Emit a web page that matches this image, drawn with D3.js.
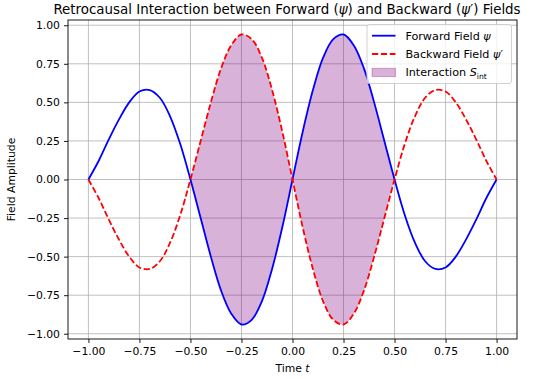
<!DOCTYPE html>
<html>
<head>
<meta charset="utf-8">
<script src="https://cdn.jsdelivr.net/npm/d3@7"></script>
<style>
  body { margin: 0; background: #fff; }
  svg { font-family: "DejaVu Sans", sans-serif; }
  .grid line { stroke: #b0b0b0; stroke-width: 0.8; }
</style>
</head>
<body>
<div id="chart"></div>
<script>
// Time samples and field values
const times = d3.range(-20, 21).map(k => k / 20);
const forward = [
    0.00, 0.12, 0.26, 0.39, 0.50, 0.57, 0.58, 0.53, 0.41, 0.23,
    0.00, -0.25, -0.50, -0.72, -0.87, -0.94, -0.91, -0.79, -0.58, -0.31,
    0.00, 0.31, 0.58, 0.79, 0.91, 0.94, 0.87, 0.72, 0.50, 0.25,
    0.00, -0.23, -0.41, -0.53, -0.58, -0.57, -0.50, -0.39, -0.26, -0.12,
    0.00
];
const backward = [
    0.00, -0.12, -0.26, -0.39, -0.50, -0.57, -0.58, -0.53, -0.41, -0.23,
    0.00, 0.25, 0.50, 0.72, 0.87, 0.94, 0.91, 0.79, 0.58, 0.31,
    0.00, -0.31, -0.58, -0.79, -0.91, -0.94, -0.87, -0.72, -0.50, -0.25,
    0.00, 0.23, 0.41, 0.53, 0.58, 0.57, 0.50, 0.39, 0.26, 0.12,
    0.00
];
const xTicks = [-1, -0.75, -0.5, -0.25, 0, 0.25, 0.5, 0.75, 1];
const yTicks = [-1, -0.75, -0.5, -0.25, 0, 0.25, 0.5, 0.75, 1];
const fillRange = [-0.5, 0.5];

const W = 535, H = 379;
const margin = { top: 20, right: 18, bottom: 40, left: 68 };
const width = W - margin.left - margin.right;
const height = H - margin.top - margin.bottom;

const svg = d3.select("#chart").append("svg")
    .attr("width", W)
    .attr("height", H);

const g = svg.append("g")
    .attr("transform", `translate(${margin.left},${margin.top})`);

const x = d3.scaleLinear().domain([-1.1, 1.1]).range([0, width]);
const y = d3.scaleLinear().domain([-1.034, 1.034]).range([height, 0]);

// Grid
g.append("g").attr("class", "grid")
    .selectAll("line").data(xTicks).join("line")
    .attr("x1", d => x(d)).attr("x2", d => x(d))
    .attr("y1", 0).attr("y2", height);
g.append("g").attr("class", "grid")
    .selectAll("line").data(yTicks).join("line")
    .attr("y1", d => y(d)).attr("y2", d => y(d))
    .attr("x1", 0).attr("x2", width);

const pts = times.map((t, i) => ({ t, f: forward[i], b: backward[i] }));

// Shaded interaction region
const area = d3.area()
    .x(d => x(d.t))
    .y0(d => y(d.b))
    .y1(d => y(d.f))
    .curve(d3.curveCatmullRom);

g.append("path")
    .datum(pts.filter(d => d.t >= fillRange[0] - 1e-9 && d.t <= fillRange[1] + 1e-9))
    .attr("d", area)
    .attr("fill", "purple")
    .attr("fill-opacity", 0.3);

const line = key => d3.line()
    .x(d => x(d.t))
    .y(d => y(d[key]))
    .curve(d3.curveCatmullRom);

g.append("path").datum(pts)
    .attr("d", line("f"))
    .attr("fill", "none")
    .attr("stroke", "blue")
    .attr("stroke-width", 1.8);

g.append("path").datum(pts)
    .attr("d", line("b"))
    .attr("fill", "none")
    .attr("stroke", "red")
    .attr("stroke-width", 1.8)
    .attr("stroke-dasharray", "6.2,2.7");

// Axes
const fmt = d3.format(".2f");
const minus = s => s.replace("-", "\u2212");
const xAxis = g.append("g")
    .attr("transform", `translate(0,${height})`)
    .call(d3.axisBottom(x).tickValues(xTicks).tickFormat(d => minus(fmt(d))).tickSize(4).tickPadding(4));
const yAxis = g.append("g")
    .call(d3.axisLeft(y).tickValues(yTicks).tickFormat(d => minus(fmt(d))).tickSize(4).tickPadding(4));
[xAxis, yAxis].forEach(a => {
    a.select(".domain").remove();
    a.selectAll("text").attr("font-size", 10.8).attr("fill", "#000").attr("font-family", "DejaVu Sans");
    a.selectAll("line").attr("stroke", "#000").attr("stroke-width", 0.9);
});

g.append("rect")
    .attr("width", width).attr("height", height)
    .attr("fill", "none").attr("stroke", "#000").attr("stroke-width", 0.9);

// Labels
svg.append("text")
    .attr("x", 287).attr("y", 13.5)
    .attr("text-anchor", "middle").attr("font-size", 13.4)
    .html('Retrocausal Interaction between Forward (<tspan font-style="italic">ψ</tspan>) and Backward (<tspan font-style="italic">ψ</tspan>′) Fields');

svg.append("text")
    .attr("x", margin.left + width / 2).attr("y", 372)
    .attr("text-anchor", "middle").attr("font-size", 10.8)
    .html('Time <tspan font-style="italic">t</tspan>');

svg.append("text")
    .attr("transform", `translate(14.5,${margin.top + height / 2}) rotate(-90)`)
    .attr("text-anchor", "middle").attr("font-size", 10.8)
    .text("Field Amplitude");

// Legend
const legend = g.append("g").attr("transform", `translate(${width - 150},4.5)`);
legend.append("rect")
    .attr("width", 144.5).attr("height", 59).attr("rx", 2.5)
    .attr("fill", "#fff").attr("fill-opacity", 0.8)
    .attr("stroke", "#cccccc").attr("stroke-width", 0.9);
const items = [
    { kind: "line", color: "blue", dash: null, label: 'Forward Field <tspan font-style="italic">ψ</tspan>' },
    { kind: "line", color: "red", dash: "6.2,2.7", label: 'Backward Field <tspan font-style="italic">ψ</tspan>′' },
    { kind: "patch", color: "purple", label: 'Interaction <tspan font-style="italic">S</tspan><tspan font-size="7.6" dy="2.5">int</tspan>' }
];
items.forEach((it, i) => {
    const row = legend.append("g").attr("transform", `translate(0,${11.2 + i * 18.3})`);
    if (it.kind === "line") {
        row.append("line")
            .attr("x1", 5).attr("x2", 28.5)
            .attr("stroke", it.color).attr("stroke-width", 1.8)
            .attr("stroke-dasharray", it.dash);
    } else {
        row.append("rect")
            .attr("x", 5).attr("y", -4).attr("width", 23.5).attr("height", 8.3)
            .attr("fill", it.color).attr("fill-opacity", 0.3)
            .attr("stroke", it.color).attr("stroke-opacity", 0.3);
    }
    row.append("text")
        .attr("x", 38.4).attr("y", 4)
        .attr("font-size", 11.2)
        .html(it.label);
});
</script>
</body>
</html>
